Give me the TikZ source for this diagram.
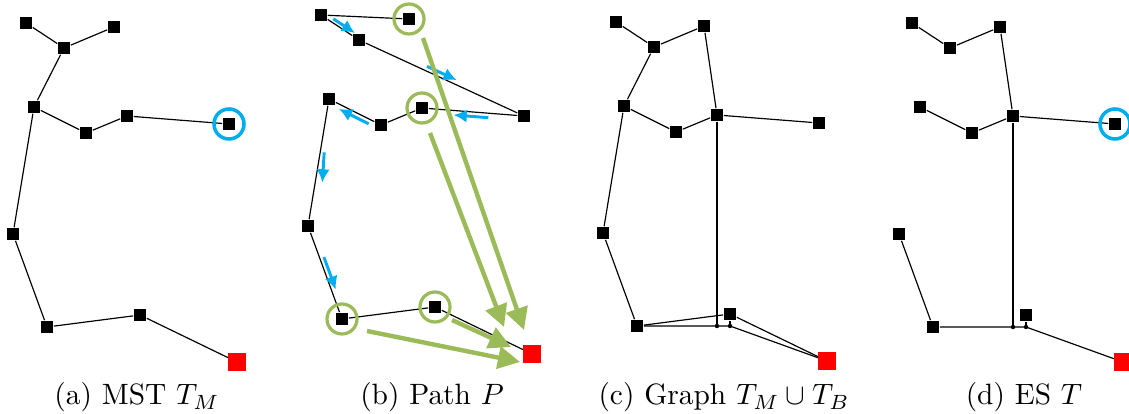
\documentclass[tikz,border=0pt]{standalone}
\usepackage{amsmath}
\usepackage{amssymb}
\usepackage{xcolor}
\usepackage{tikz}
\usetikzlibrary{
	arrows.meta,
	calc
}

\definecolor{pathblue}{RGB}{0,174,239}
\definecolor{leafgreen}{RGB}{155,187,89}

\tikzset{
	terminal/.style={fill=black, minimum size=4.2pt, inner sep=0pt},
	rootnode/.style={fill=red, minimum size=5.8pt, inner sep=0pt},
	steiner/.style={circle, fill=black, minimum size=1.5pt, inner sep=0pt},
	link/.style={line width=0.4pt},
	dirarrow/.style={pathblue, line width=1pt, -{Latex[length=4.5pt,width=4.5pt]}},
	jumparrow/.style={leafgreen, line width=1.5pt, -{Triangle[length=7.5pt,width=7.5pt]}},
	greenring/.style={leafgreen, line width=1.1pt},
	bluering/.style={pathblue, line width=1.2pt}
}

% the same point set in every panel
\newcommand{\placeterminals}[1]{%
	\node[terminal] (#11) at (26,23) {};
	\node[terminal] (#12) at (64,48) {};
	\node[terminal] (#13) at (114,27) {};
	\node[terminal] (#14) at (34,107) {};
	\node[terminal] (#15) at (86,133) {};
	\node[terminal] (#16) at (127,116) {};
	\node[terminal] (#17) at (229,124) {};
	\node[terminal] (#18) at (13,234) {};
	\node[terminal] (#19) at (47,327) {};
	\node[terminal] (#110) at (140,315) {};
	\node[rootnode] (#1r) at (237,362) {};
}

\begin{document}
\begin{tikzpicture}[x=0.34pt, y=-0.34pt]
	\useasboundingbox (0,0) rectangle (1129,414);

	% (a) MST
	\begin{scope}
		\placeterminals{a}
		\draw[link] (a1) -- (a2) -- (a3);
		\draw[link] (a2) -- (a4) -- (a5) -- (a6) -- (a7);
		\draw[link] (a4) -- (a8) -- (a9) -- (a10) -- (ar);
		\draw[bluering] (a7) circle (5.1pt);
	\end{scope}
	\node[anchor=base] (capa) at (137,405) {(a) MST $T_M$};

	% (b) path P
	\begin{scope}[shift={(295,-8)}]
		\placeterminals{b}
		\draw[link] (b3) -- (b1) -- (b2) -- (b7) -- (b6) -- (b5) -- (b4)
			-- (b8) -- (b9) -- (b10) -- (br);
		\draw[dirarrow] ($(b1)!.27!(b2)+(2,-3)$) -- ($(b1)!.84!(b2)+(2,-3)$);
		\draw[dirarrow] ($(b2)!.40!(b7)+(2,-4)$) -- ($(b2)!.58!(b7)+(2,-4)$);
		\draw[dirarrow] ($(b7)!.35!(b6)+(0,4.5)$) -- ($(b7)!.69!(b6)+(0,4.5)$);
		\draw[dirarrow] ($(b5)!.2!(b4)+(-2,4)$) -- ($(b5)!.77!(b4)+(-2,4)$);
		\draw[dirarrow] ($(b4)!.42!(b8)+(4,0)$) -- ($(b4)!.65!(b8)+(7,1)$);
		\draw[dirarrow] ($(b8)!.35!(b9)+(4,-1.5)$) -- ($(b8)!.70!(b9)+(4,-1.5)$);
		\foreach \leaf in {b3,b6,b9,b10}
			\draw[greenring] (\leaf) circle (5.1pt);
		\draw[jumparrow] ($(b3)+(14,19)$) -- ($(br)+(-8,-24)$);
		\draw[jumparrow] ($(b6)+(8,25)$) -- ($(br)+(-28,-27)$);
		\draw[jumparrow] ($(b10)+(17,13)$) -- ($(br)+(-21,-7)$);
		\draw[jumparrow] ($(b9)+(25,12)$) -- ($(br)+(-12,8)$);
	\end{scope}
	\node[anchor=base] (capb) at (432,405) {(b) Path $P$};

	% (c) union of both trees
	\begin{scope}[shift={(590,-1)}]
		\placeterminals{c}
		\coordinate (cs1) at (c6 |- c9);
		\coordinate (cs2) at (c10 |- c9);
		\draw[link] (c1) -- (c2) -- (c3) -- (c6);
		\draw[link] (c2) -- (c4) -- (c5) -- (c6) -- (c7);
		\draw[link] (c4) -- (c8) -- (c9) -- (c10) -- (cr);
		\draw[link] (c6) -- (cs1);
		\draw[link] (c9) -- (cs1) -- (cs2) -- (cr);
		\draw[link] (c10) -- (cs2);
		\node[steiner] at (cs1) {};
		\node[steiner] at (cs2) {};
	\end{scope}
	\node[anchor=base] (capc) at (724,405) {(c) Graph $T_M \cup T_B$};

	% (d) ES
	\begin{scope}[shift={(886,0)}]
		\placeterminals{d}
		\coordinate (ds1) at (d6 |- d9);
		\coordinate (ds2) at (d10 |- d9);
		\draw[link] (d1) -- (d2) -- (d3) -- (d6) -- (d7);
		\draw[link] (d4) -- (d5) -- (d6);
		\draw[link] (d8) -- (d9);
		\draw[link] (d6) -- (ds1);
		\draw[link] (d9) -- (ds1) -- (ds2) -- (dr);
		\draw[link] (d10) -- (ds2);
		\node[steiner] at (ds1) {};
		\node[steiner] at (ds2) {};
		\draw[bluering] (d7) circle (5.1pt);
	\end{scope}
	\node[anchor=base] (capd) at (1024,405) {(d) ES $T$};
\end{tikzpicture}
\end{document}
